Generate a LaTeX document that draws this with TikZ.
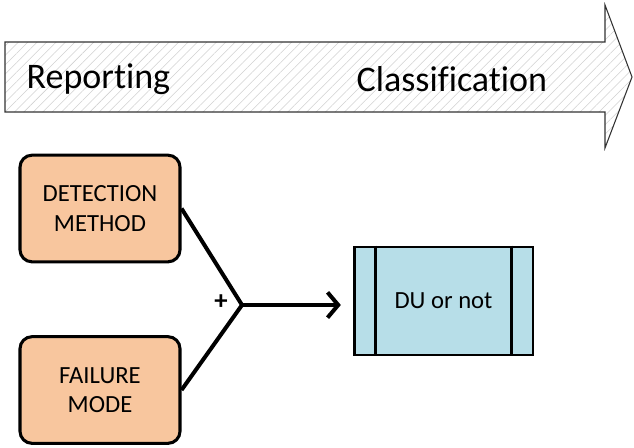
\documentclass[tikz,border=0pt]{standalone}
\usepackage{fontspec}
\setmainfont{Carlito}[Ligatures=CommonOff]
\usetikzlibrary{arrows.meta,patterns.meta}

\definecolor{peach}{RGB}{248,198,158}
\definecolor{paleblue}{RGB}{183,222,232}

\tikzset{
  factor/.style={draw=black, line width=2.3pt, rounded corners=9pt, fill=peach,
    minimum width=120pt, minimum height=80pt, align=center, font=\fontsize{18.5}{22}\selectfont},
  process/.style={draw=black, line width=2pt, fill=paleblue,
    minimum width=134pt, minimum height=81pt, font=\fontsize{18.5}{22}\selectfont},
  link/.style={line width=3pt, line join=miter},
}

\begin{document}
\begin{tikzpicture}[x=0.75pt, y=-0.75pt]
      \useasboundingbox (0,0) rectangle (634,447);
      %big arrow
      \coordinate (P1) at (5,42); \coordinate (P2) at (605,42); \coordinate (P3) at (605,5);
      \coordinate (P4) at (632,77); \coordinate (P5) at (605,148); \coordinate (P6) at (605,112);
      \coordinate (P7) at (5,112);
      \fill[white] (P1)--(P2)--(P3)--(P4)--(P5)--(P6)--(P7)--cycle;
      \fill[pattern={Lines[angle=45, distance=5pt, line width=0.4pt]}, pattern color=black!18]
        (P1)--(P2)--(P3)--(P4)--(P5)--(P6)--(P7)--cycle;
      \draw[line width=0.8pt, black!80] (P1)--(P2)--(P3)--(P4)--(P5)--(P6)--(P7)--cycle;
      \node[anchor=west, font=\fontsize{27}{32}\selectfont] (rep) at (22,79) {Reporting};
      \node[anchor=west, font=\fontsize{27}{32}\selectfont] (cls) at (352,79) {Classification};
      %boxes
      \node[factor] (det) at (100,208.5) {DETECTION\\METHOD};
      \node[factor] (fail) at (100,390) {FAILURE\\MODE};
      \node[process] (du) at (443.5,301) {DU or not};
      \draw[line width=2pt] ([xshift=17pt]du.north west) -- ([xshift=17pt]du.south west);
      \draw[line width=2pt] ([xshift=-17pt]du.north east) -- ([xshift=-17pt]du.south east);
      %junction
      \coordinate (J) at (242,305);
      \draw[link] (det.east) -- (J) -- (fail.east);
      \draw[link, -{Straight Barb[length=8pt, width=19pt]}, shorten >=9pt] (J) -- (du.west |- J);
      \node[font=\bfseries\fontsize{20}{22}\selectfont] (plus) at (221,302) {+};
\end{tikzpicture}
\end{document}
